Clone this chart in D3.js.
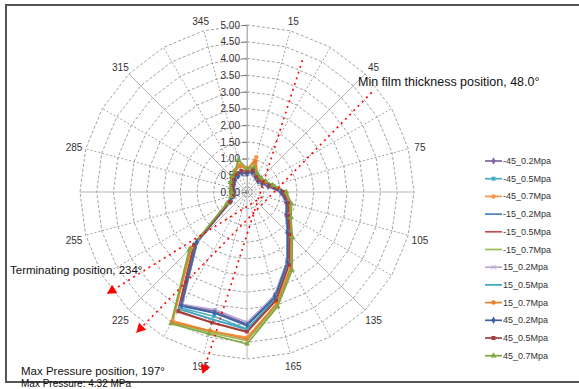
<!DOCTYPE html>
<html><head><meta charset="utf-8">
<script src="https://cdn.jsdelivr.net/npm/d3@7"></script>
<style>body{margin:0;background:#fff}svg{display:block;font-family:Arial,"Liberation Sans",sans-serif}</style>
</head><body><svg id="c" width="579" height="389"></svg>
<script>
// ---- data ----
const angles = [0,15,30,45,60,75,90,105,120,135,150,165,180,195,210,225,240,255,270,285,300,315,330,345];
const angleLabels = [15,45,75,105,135,165,195,225,255,285,315,345];
const valueTicks = [0,0.5,1,1.5,2,2.5,3,3.5,4,4.5,5];
const seriesNames = ["-45_0.2Mpa","-45_0.5Mpa","-45_0.7Mpa","-15_0.2Mpa","-15_0.5Mpa","-15_0.7Mpa","15_0.2Mpa","15_0.5Mpa","15_0.7Mpa","45_0.2Mpa","45_0.5Mpa","45_0.7Mpa"];
const sM45_02 = [0.55,0.60,0.50,0.45,0.50,0.65,1.00,1.20,1.35,1.70,2.40,3.20,3.95,3.70,3.90,2.10,0.55,0.40,0.38,0.42,0.45,0.50,0.55,0.60];
const sM45_05 = [0.60,0.70,0.55,0.50,0.55,0.70,1.05,1.25,1.40,1.75,2.45,3.30,4.10,3.85,4.00,2.20,0.60,0.42,0.40,0.45,0.50,0.55,0.60,0.65];
const sM45_07 = [0.65,1.08,0.60,0.55,0.60,0.75,1.10,1.30,1.45,1.85,2.60,3.45,4.35,4.30,4.45,2.35,0.65,0.45,0.42,0.48,0.55,0.60,0.75,0.85];
const sM15_02 = [0.55,0.62,0.50,0.48,0.52,0.68,1.05,1.22,1.38,1.72,2.42,3.25,4.00,3.75,3.95,2.15,0.58,0.40,0.38,0.43,0.47,0.52,0.55,0.60];
const sM15_05 = [0.60,0.68,0.56,0.50,0.56,0.72,1.08,1.27,1.42,1.80,2.50,3.35,4.20,4.05,4.15,2.25,0.60,0.43,0.40,0.46,0.50,0.56,0.62,0.66];
const sM15_07 = [0.68,0.75,0.62,0.58,0.62,0.78,1.15,1.35,1.50,1.90,2.65,3.50,4.45,4.35,4.50,2.40,0.68,0.48,0.45,0.50,0.56,0.62,0.70,1.00];
const sP15_02 = [0.55,0.60,0.50,0.46,0.50,0.66,1.02,1.20,1.36,1.70,2.40,3.22,3.90,3.65,3.88,2.10,0.56,0.40,0.37,0.42,0.45,0.50,0.54,0.58];
const sP15_05 = [0.60,0.66,0.55,0.50,0.55,0.70,1.06,1.25,1.40,1.77,2.48,3.32,4.12,3.95,4.05,2.20,0.60,0.42,0.40,0.45,0.50,0.55,0.60,0.64];
const sP15_07 = [0.70,0.95,0.60,0.56,0.60,0.76,1.12,1.32,1.48,1.88,2.62,3.45,4.40,4.30,4.50,2.38,0.66,0.46,0.43,0.49,0.55,0.62,0.72,0.80];
const sP45_02 = [0.56,0.62,0.52,0.47,0.52,0.67,1.03,1.23,1.37,1.72,2.42,3.25,3.98,3.75,3.92,2.12,0.57,0.41,0.38,0.43,0.46,0.51,0.55,0.60];
const sP45_05 = [0.62,0.68,0.56,0.50,0.56,0.72,1.08,1.28,1.43,1.80,2.52,3.36,4.18,4.05,4.12,2.24,0.60,0.43,0.41,0.46,0.50,0.56,0.62,0.66];
const sP45_07 = [0.70,0.78,0.64,0.60,0.65,0.80,1.18,1.38,1.52,1.92,2.70,3.55,4.55,4.40,4.55,2.45,0.70,0.50,0.46,0.52,0.58,0.65,0.72,1.00];
// annotation lines: [startAngle, startR, endAngle, endR]
const lineMaxPressure = [22.8, 4.28, 193.7, 5.61];
const lineMinFilm = [51.4, 4.78, 218.2, 5.36];
const lineTerminating = [108, 0.48, 234, 5.18];
const annotationTexts = ["Min film thickness position, 48.0°","Terminating position, 234°","Max Pressure position, 197°","Max Pressure: 4.32 MPa"];

// ---- styles ----
const seriesData = [sM45_02,sM45_05,sM45_07,sM15_02,sM15_05,sM15_07,sP15_02,sP15_05,sP15_07,sP45_02,sP45_05,sP45_07];
const colors = ["#8064A2","#4BACC6","#F79646","#4F81BD","#C0504D","#9BBB59","#B9A9D0","#3FA3BD","#E4832F","#3A64A0","#A33F3C","#7FA843"];
const symbols = [d3.symbolDiamond,d3.symbolSquare,d3.symbolCircle,null,null,null,d3.symbolTimes,null,d3.symbolCircle,d3.symbolDiamond,d3.symbolSquare,d3.symbolTriangle];

const cx = 247, cy = 192, R = 167;
const svg = d3.select("#c");
const rS = d3.scaleLinear().domain([0,5]).range([0,R]);
const aS = d3.scaleLinear().domain([0,360]).range([0,2*Math.PI]);
const px = (a,r)=>[cx + rS(r)*Math.sin(aS(a)), cy - rS(r)*Math.cos(aS(a))];

// frame
svg.append("rect").attr("x",6).attr("y",5).attr("width",590).attr("height",377)
  .attr("fill","none").attr("stroke","#555").attr("stroke-width",2);

const g = svg.append("g").attr("transform",`translate(${cx},${cy})`);
// rings
const ring = d3.lineRadial().angle(a=>aS(a)).curve(d3.curveLinearClosed);
valueTicks.slice(1).forEach(v=>{
  g.append("path").attr("d", ring.radius(()=>rS(v))(angles))
    .attr("fill","none").attr("stroke","#8a8a8a").attr("stroke-width",0.8).attr("stroke-dasharray","3,2");
});
// spokes
angles.forEach(a=>{
  const solid = a%45===0;
  g.append("line").attr("x1",0).attr("y1",0)
    .attr("x2",rS(5)*Math.sin(aS(a))).attr("y2",-rS(5)*Math.cos(aS(a)))
    .attr("stroke", solid?"#b5b5b5":"#8a8a8a").attr("stroke-width", solid?1:0.8)
    .attr("stroke-dasharray", solid?null:"2,2");
});
// value axis
const yS = d3.scaleLinear().domain([0,5]).range([cy, cy-R]);
const ax = svg.append("g").attr("transform",`translate(${cx},0)`)
  .call(d3.axisLeft(yS).tickValues(valueTicks).tickFormat(d3.format(".2f")).tickSize(5).tickPadding(2));
ax.select(".domain").attr("stroke","#b5b5b5");
ax.selectAll(".tick line").attr("stroke","#777");
ax.selectAll("text").attr("font-size",10).attr("fill","#333").attr("font-family","Arial,'Liberation Sans',sans-serif");

// angle labels
angleLabels.forEach(a=>{
  const [x,y] = px(a, 5.36);
  svg.append("text").attr("x",x).attr("y",y+2).attr("text-anchor","middle").attr("dominant-baseline","central")
    .attr("font-size",10).attr("fill","#333").text(a);
});

// series
const sl = d3.lineRadial().angle((d,i)=>aS(angles[i])).radius(d=>rS(d)).curve(d3.curveLinearClosed);
seriesData.forEach((s,k)=>{
  g.append("path").attr("d", sl(s)).attr("fill","none").attr("stroke",colors[k]).attr("stroke-width",1.7).attr("stroke-linejoin","round");
  if(symbols[k]){
    const sym = d3.symbol().type(symbols[k]).size(14);
    s.forEach((v,i)=>{
      const [x,y] = px(angles[i], v);
      svg.append("path").attr("d",sym()).attr("transform",`translate(${x},${y})`)
        .attr("fill", symbols[k]===d3.symbolTimes?"none":colors[k]).attr("stroke",colors[k]).attr("stroke-width",symbols[k]===d3.symbolTimes?1:0);
    });
  }
});

// red annotation lines with arrowheads
[lineMaxPressure, lineMinFilm, lineTerminating].forEach(l=>{
  const p1 = px(l[0],l[1]), p2 = px(l[2],l[3]);
  svg.append("line").attr("x1",p1[0]).attr("y1",p1[1]).attr("x2",p2[0]).attr("y2",p2[1])
    .attr("stroke","#ff0000").attr("stroke-width",1.6).attr("stroke-dasharray","2,4");
  const ang = Math.atan2(p2[1]-p1[1], p2[0]-p1[0])*180/Math.PI;
  svg.append("path").attr("d","M0,0 L-9,-5 L-9,5 Z").attr("fill","#ff0000")
    .attr("transform",`translate(${p2[0]},${p2[1]}) rotate(${ang})`);
});

// annotation texts
svg.append("text").attr("x",358).attr("y",86).attr("font-size",12.5).attr("fill","#111").text(annotationTexts[0]);
svg.append("text").attr("x",10).attr("y",274).attr("font-size",11.5).attr("fill","#111").text(annotationTexts[1]);
svg.append("text").attr("x",21).attr("y",375).attr("font-size",11.5).attr("fill","#111").text(annotationTexts[2]);
svg.append("text").attr("x",21).attr("y",387).attr("font-size",10).attr("fill","#111").text(annotationTexts[3]);

// legend
seriesNames.forEach((n,k)=>{
  const y = 161 + k*17.7;
  svg.append("line").attr("x1",485).attr("x2",502).attr("y1",y).attr("y2",y).attr("stroke",colors[k]).attr("stroke-width",1.7);
  if(symbols[k]){
    svg.append("path").attr("d",d3.symbol().type(symbols[k]).size(16)()).attr("transform",`translate(493.5,${y})`)
      .attr("fill", symbols[k]===d3.symbolTimes?"none":colors[k]).attr("stroke",colors[k]).attr("stroke-width",symbols[k]===d3.symbolTimes?1:0);
  }
  svg.append("text").attr("x",503).attr("y",y).attr("dominant-baseline","central").attr("font-size",9).attr("fill","#333").text(n);
});
</script></body></html>
